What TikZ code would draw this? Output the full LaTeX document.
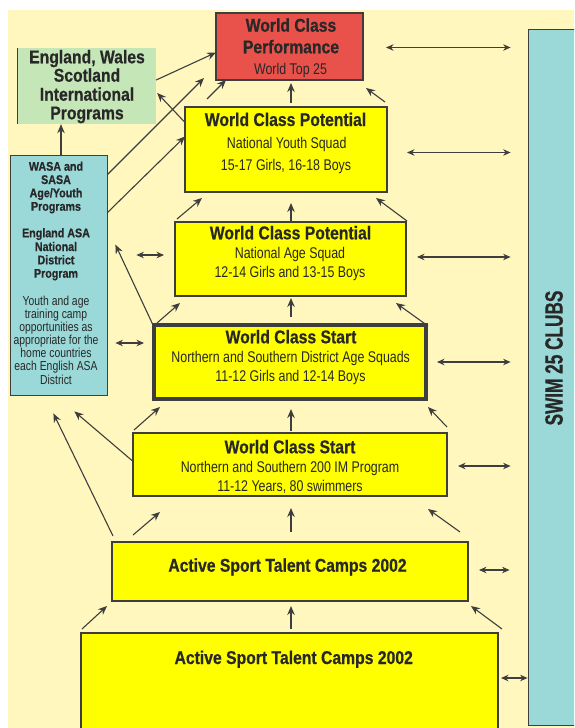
\documentclass[tikz,border=0pt]{standalone}
\usepackage{fontspec}
\usetikzlibrary{arrows.meta,calc}
\newfontfamily\bfam{Liberation Sans}[FakeStretch=0.85,FakeBold=0.6]
\newfontfamily\rfam{Liberation Sans}[FakeStretch=0.8]
\definecolor{cream}{RGB}{255,247,190}
\definecolor{yel}{RGB}{255,255,0}
\definecolor{redb}{RGB}{232,82,74}
\definecolor{grn}{RGB}{197,230,183}
\definecolor{tealb}{RGB}{155,216,216}
\definecolor{txt}{RGB}{40,40,40}
\definecolor{lc}{RGB}{62,62,62}
\begin{document}
\begin{tikzpicture}[x=1pt,y=-1pt,
  box/.style={draw=lc, line width=2.2pt, inner sep=0pt, outer sep=0pt, fill=yel},
  tb/.style={font=\bfam\bfseries\fontsize{18.5}{20}\selectfont, text=txt, anchor=base, inner sep=0pt},
  tr/.style={font=\rfam\fontsize{15.5}{17}\selectfont, text=txt, anchor=base, inner sep=0pt},
  sb/.style={font=\bfam\bfseries\fontsize{12.6}{14}\selectfont, text=txt, anchor=base, inner sep=0pt},
  sr/.style={font=\rfam\fontsize{13}{14}\selectfont, text=txt, anchor=base, inner sep=0pt},
  arr/.style={draw=lc, line width=1.1pt, -{Stealth[length=9pt,width=7.5pt]}},
  dbl/.style={draw=lc, line width=1.1pt, {Stealth[length=7.5pt,width=6.5pt]}-{Stealth[length=7.5pt,width=6.5pt]}}]
\useasboundingbox (0,0) rectangle (574,728);
\clip (0,0) rectangle (574,728);
\fill[white] (0,0) rectangle (574,728);
\fill[cream] (8,10) rectangle (574,728);

% boxes
\node[box, fill=redb, line width=2.5pt, minimum width=147pt, minimum height=67pt] (red) at (289.5,46.5) {};
\node[fill=grn, inner sep=0pt, minimum width=138pt, minimum height=76pt] (green) at (87,86) {};
\draw[lc, line width=0.8pt] (green.north west) -- (green.south west);
\node[draw=lc, line width=0.8pt, fill=tealb, inner sep=0pt, minimum width=97pt, minimum height=240pt] (tealL) at (58.5,275) {};
\node[draw=lc, line width=0.8pt, fill=tealb, inner sep=0pt, minimum width=52pt, minimum height=696pt] (swim) at (554,377) {};
\node[box, line width=2.8pt, minimum width=202pt, minimum height=85pt] (b1) at (286,149.5) {};
\node[box, line width=2.6pt, minimum width=231pt, minimum height=74pt] (b2) at (290.5,259) {};
\node[box, line width=3.4pt, minimum width=272pt, minimum height=74pt] (b3) at (290,362) {};
\node[box, line width=2.5pt, minimum width=314pt, minimum height=63pt] (b4) at (290,464.5) {};
\node[box, line width=2.2pt, minimum width=356pt, minimum height=59pt] (b5) at (290,571.5) {};
\node[box, line width=2.2pt, minimum width=417pt, minimum height=97pt] (b6) at (289.5,681.5) {};

% texts
\node[tb] (r1) at (291,31.7) {World Class};
\node[tb] (r2) at (291,53.3) {Performance};
\node[tr] (r3) at (290.5,74) {World Top 25};

\node[tb] (g1) at (87,63.3) {England, Wales};
\node[tb] (g2) at (87,81.7) {Scotland};
\node[tb] (g3) at (87,100.7) {International};
\node[tb] (g4) at (87,119.3) {Programs};

\node[sb] (w1) at (56,170.7) {WASA and};
\node[sb] (w2) at (56,184) {SASA};
\node[sb] (w3) at (56,197.3) {Age/Youth};
\node[sb] (w4) at (56,210.7) {Programs};
\node[sb] (w5) at (56,237.3) {England ASA};
\node[sb] (w6) at (56,251) {National};
\node[sb] (w7) at (56,264.3) {District};
\node[sb] (w8) at (56,277.7) {Program};
\node[sr] (w9) at (56,305.7) {Youth and age};
\node[sr] (w10) at (56,318.7) {training camp};
\node[sr] (w11) at (56,331.7) {opportunities as};
\node[sr] (w12) at (56,344.7) {appropriate for the};
\node[sr] (w13) at (56,357.7) {home countries};
\node[sr] (w14) at (56,370.7) {each English ASA};
\node[sr] (w15) at (56,384) {District};

\node[tb] (p1) at (285.5,126) {World Class Potential};
\node[tr] (p2) at (286.7,148) {National Youth Squad};
\node[tr] (p3) at (286,170) {15-17 Girls, 16-18 Boys};

\node[tb] (q1) at (290.5,239.3) {World Class Potential};
\node[tr] (q2) at (290,258.3) {National Age Squad};
\node[tr] (q3) at (290,277.3) {12-14 Girls and 13-15 Boys};

\node[tb] (s1) at (291,343.3) {World Class Start};
\node[tr] (s2) at (290.7,362.3) {Northern and Southern District Age Squads};
\node[tr] (s3) at (290.5,381.7) {11-12 Girls and 12-14 Boys};

\node[tb] (u1) at (290,453.3) {World Class Start};
\node[tr] (u2) at (290,472.7) {Northern and Southern 200 IM Program};
\node[tr] (u3) at (290,491) {11-12 Years, 80 swimmers};

\node[tb] (v1) at (287.5,571.7) {Active Sport Talent Camps 2002};
\node[tb] (x1) at (293.7,664) {Active Sport Talent Camps 2002};

\node[font=\bfam\bfseries\fontsize{25}{27}\selectfont, text=txt, rotate=90, inner sep=0pt] (swt) at (554,358) {\scalebox{0.81}[1]{SWIM 25 CLUBS}};

% arrows
\draw[arr] ($(green.east)+(0,-6)$) -- ($(red.west)+(0,6)$);
\draw[arr] ($(tealL.north east)+(0,20)$) -- ($(red.south west)+(-12,-2)$);
\draw[arr] ($(tealL.north east)+(0,58)$) -- ($(b1.west)+(0,-13)$);
\draw[arr] ($(b1.north west)+(22,-8)$) -- ($(red.south west)+(10,0)$);
\draw[arr] ($(b1.west)+(0,-27)$) -- ($(green.east)+(1,7)$);
\draw[arr] ($(tealL.north)+(2.5,0)$) -- ($(green.south)+(-26,0)$);
\draw[arr] ($(b1.north)+(5,-4)$) -- ($(red.south)+(1.5,3)$);
\draw[arr] ($(b1.north east)+(-2,-5)$) -- ($(red.south east)+(3,8)$);
\draw[dbl] ($(red.east)+(23,1)$) -- ($(red.east -| swim.west)+(-17,1)$);
\draw[dbl] ($(b1.east)+(20,3)$) -- ($(b1.east -| swim.west)+(-17,3)$);

\draw[arr] ($(b2.north west)+(2,-3)$) -- ($(b1.south west)+(17,6)$);
\draw[arr] ($(b2.north)+(0.5,-1)$) -- ($(b1.south)+(5,11)$);
\draw[arr] ($(b2.north east)+(1,-1)$) -- ($(b1.south east)+(-11,6)$);
\draw[dbl] ($(b2.west -| tealL.east)+(29,-4)$) -- ($(b2.west)+(-11,-4)$);
\draw[dbl] ($(b2.east)+(11,-2)$) -- ($(b2.east -| swim.west)+(-17,-2)$);

\draw[arr] ($(b3.north west)+(-1,0)$) -- ($(tealL.north east)+(8,90)$);
\draw[arr] ($(b3.north west)+(3,-2)$) -- ($(b2.south west)+(5,7)$);
\draw[arr] ($(b3.north)+(1,-8)$) -- ($(b2.south)+(0.5,2)$);
\draw[arr] ($(b3.north east)+(2,1)$) -- ($(b2.south east)+(-10,7)$);
\draw[dbl] ($(b3.west -| tealL.east)+(8,-19)$) -- ($(b3.west)+(-10,-19)$);
\draw[dbl] ($(b3.east)+(11,0)$) -- ($(b3.east -| swim.west)+(-17,0)$);

\draw[arr] ($(b4.north west)+(1,-3)$) -- ($(b3.south west)+(6,8)$);
\draw[arr] ($(b4.north)+(1,-2)$) -- ($(b3.south)+(1,10)$);
\draw[arr] ($(b4.north east)+(0,-6)$) -- ($(b3.south east)+(2,8)$);
\draw[arr] ($(b4.west)+(-1,-4)$) -- ($(tealL.south east)+(-33,16)$);
\draw[dbl] ($(b4.east)+(11,1.5)$) -- ($(b4.east -| swim.west)+(-17,1.5)$);

\draw[arr] ($(b5.north west)+(1,-6)$) -- ($(tealL.south east)+(-54,18)$);
\draw[arr] ($(b5.north west)+(21,-7)$) -- ($(b4.south west)+(27,16)$);
\draw[arr] ($(b5.north)+(1,-10)$) -- ($(b4.south)+(1,12)$);
\draw[arr] ($(b5.north east)+(-8,-10)$) -- ($(b4.south east)+(-19,13)$);
\draw[dbl] ($(b5.east)+(11,-1.5)$) -- ($(b5.east -| swim.west)+(-18,-1.5)$);

\draw[arr] ($(b6.north west)+(1,-4)$) -- ($(b5.south west)+(-5,5)$);
\draw[arr] ($(b6.north)+(1.5,-4)$) -- ($(b5.south)+(1,5)$);
\draw[arr] ($(b6.north east)+(4,-4)$) -- ($(b5.south east)+(3,5)$);
\draw[dbl] ($(b6.east)+(3,-3.5)$) -- ($(b6.east -| swim.west)+(0,-3.5)$);
\end{tikzpicture}
\end{document}
